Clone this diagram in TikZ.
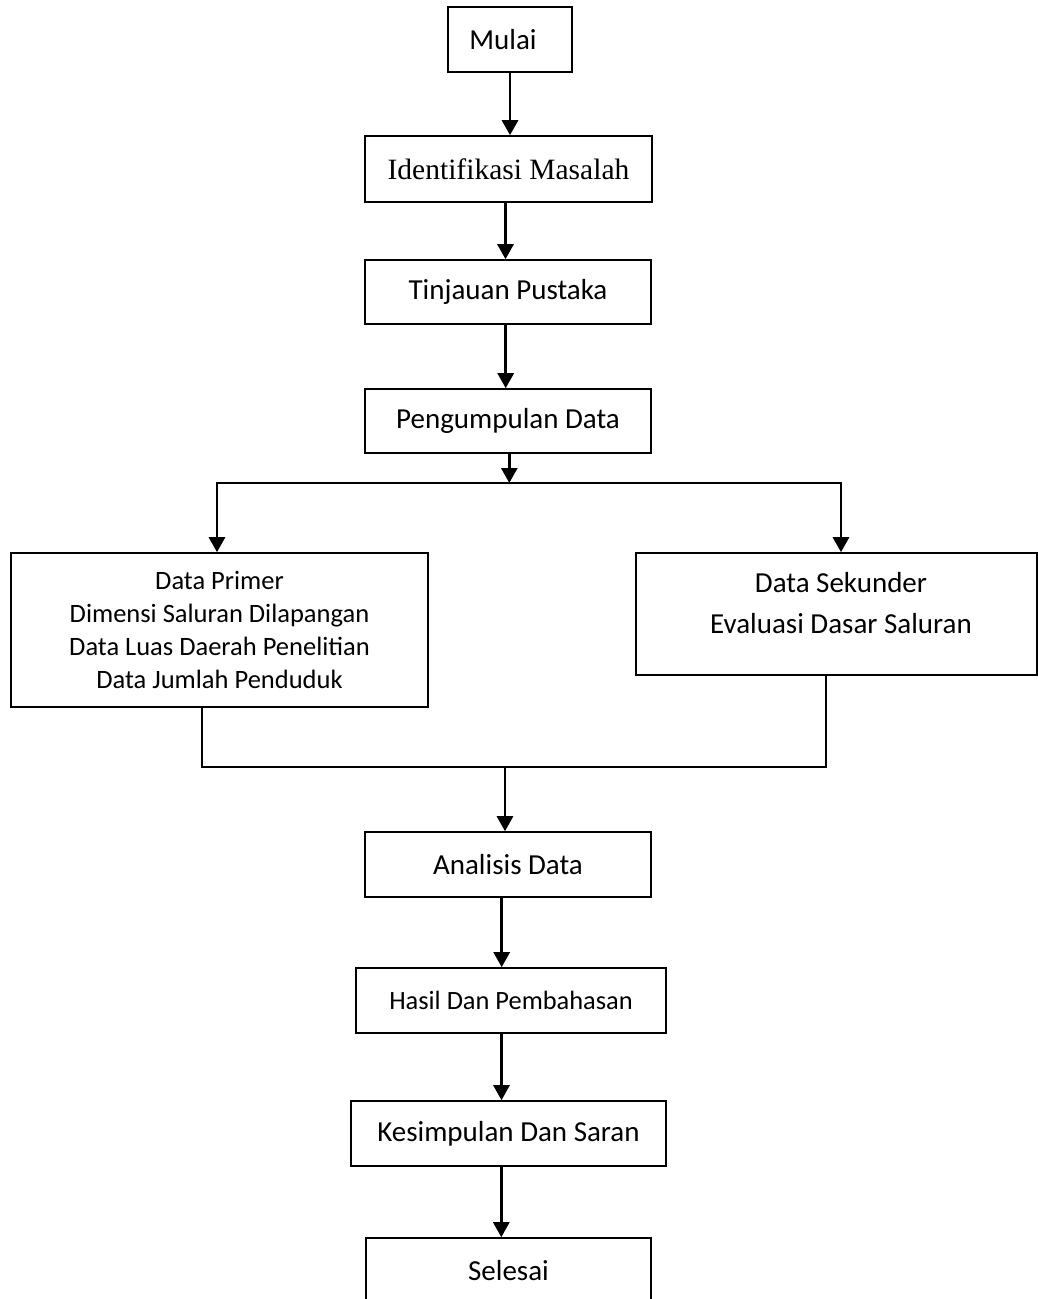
\documentclass[tikz,border=0pt]{standalone}
\usepackage{fontspec}
\setmainfont{Carlito}
\newfontfamily\serifid{Liberation Serif}
\usetikzlibrary{arrows.meta}
\begin{document}
\begin{tikzpicture}[x=1pt,y=-1pt,
  box/.style={draw, line width=1.6pt, inner sep=0pt, align=center,
    font=\fontsize{29}{35}\selectfont},
  arr/.style={line width=2.7pt, -{Triangle[length=15pt,width=16pt]}},
  conn/.style={line width=1.8pt},
  ]
\clip (0,0) rectangle (1038,1299);
\fill[white] (0,0) rectangle (1038,1299);
% boxes
\node[box, minimum width=124pt, minimum height=65pt] (mulai) at (510,39.5) {Mulai\hspace*{14pt}};
\node[box, minimum width=287pt, minimum height=66pt, font=\serifid\fontsize{29.5}{35}\selectfont] (ident) at (508.5,169) {Identifikasi Masalah};
\node[box, minimum width=286pt, minimum height=64pt] (tinjau) at (508,292) {Tinjauan Pustaka};
\node[box, minimum width=286pt, minimum height=64pt] (kumpul) at (508,421) {Pengumpulan Data};
\node[box, minimum width=417pt, minimum height=154pt, font=\fontsize{26.5}{32.7}\selectfont] (primer) at (219.5,630)
  {Data Primer\\Dimensi Saluran Dilapangan\\Data Luas Daerah Penelitian\\Data Jumlah Penduduk};
\node[box, minimum width=401pt, minimum height=122pt] (sekunder) at (836.5,614) {};
\node[align=center, font=\fontsize{29}{41.7}\selectfont] (sektext) at (841,603)
  {Data Sekunder\\Evaluasi Dasar Saluran};
\node[box, minimum width=286pt, minimum height=65pt] (analisis) at (508,864.5) {Analisis Data};
\node[box, minimum width=310pt, minimum height=65pt, font=\fontsize{26.4}{32}\selectfont] (hasil) at (511,1000.5) {Hasil Dan Pembahasan};
\node[box, minimum width=315pt, minimum height=65pt] (kesimp) at (508.5,1133.5) {Kesimpulan Dan Saran};
\node[box, minimum width=285pt, minimum height=65pt] (selesai) at (508.5,1270.5) {Selesai};
% junction coordinates
\coordinate (split) at (509.3,483);
\coordinate (splitL) at (217,483);
\coordinate (splitR) at (841,483);
\coordinate (mergeL) at (202,767);
\coordinate (mergeR) at (825.7,767);
\coordinate (merge) at (505,767);
% connectors
\draw[arr] (mulai.south -| 510,0) -- (ident.north -| 510,0);
\draw[arr] (ident.south -| 505.5,0) -- (tinjau.north -| 505.5,0);
\draw[arr] (tinjau.south -| 505.7,0) -- (kumpul.north -| 505.7,0);
\draw[arr] (kumpul.south -| split) -- (split);
\draw[conn, line width=2.2pt] ([xshift=-1pt]splitL) -- ([xshift=1pt]splitR);
\draw[arr] (splitL) -- (primer.north -| splitL);
\draw[arr] (splitR) -- (sekunder.north -| splitR);
\draw[conn] (primer.south -| mergeL) -- (mergeL) -- (mergeR) -- (sekunder.south -| mergeR);
\draw[arr] (merge) -- (analisis.north -| merge);
\draw[arr] (analisis.south -| 501.7,0) -- (hasil.north -| 501.7,0);
\draw[arr] (hasil.south -| 501.5,0) -- (kesimp.north -| 501.5,0);
\draw[arr] (kesimp.south -| 501.3,0) -- (selesai.north -| 501.3,0);
\end{tikzpicture}
\end{document}
